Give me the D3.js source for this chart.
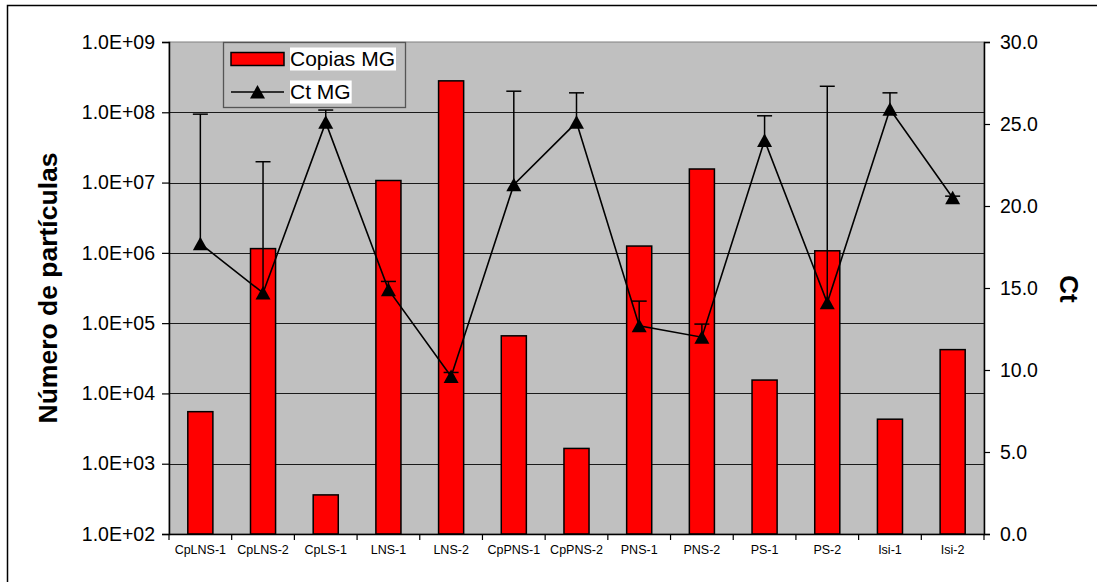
<!DOCTYPE html>
<html>
<head>
<meta charset="utf-8">
<script src="https://cdn.jsdelivr.net/npm/d3@7"></script>
<style>
  html, body { margin: 0; padding: 0; background: #fff; }
  svg { display: block; font-family: Arial, "Liberation Sans", sans-serif; }
</style>
</head>
<body>
<svg id="chart" width="1097" height="582"></svg>
<script>
// Samples on the category axis
const categories = ["CpLNS-1", "CpLNS-2", "CpLS-1", "LNS-1", "LNS-2", "CpPNS-1", "CpPNS-2",
                    "PNS-1", "PNS-2", "PS-1", "PS-2", "Isi-1", "Isi-2"];
// Copias MG (number of particles, log axis)
const copiasMG = [5.5e3, 1.15e6, 3.6e2, 1.07e7, 2.8e8, 6.6e4, 1.65e3,
                  1.25e6, 1.56e7, 1.55e4, 1.07e6, 4.3e3, 4.2e4];
// Ct MG (secondary axis) and its positive error
const ctMG = [17.7, 14.7, 25.1, 14.9, 9.6, 21.3, 25.1, 12.7, 12.0, 24.0, 14.1, 25.9, 20.5];
const ctErr = [7.9, 8.0, 0.75, 0.5, 0.25, 5.7, 1.8, 1.5, 0.8, 1.5, 13.2, 1.0, 0.1];
// Axis ticks
const leftTicks = [1e2, 1e3, 1e4, 1e5, 1e6, 1e7, 1e8, 1e9];
const leftTickLabels = ["1.0E+02", "1.0E+03", "1.0E+04", "1.0E+05", "1.0E+06", "1.0E+07", "1.0E+08", "1.0E+09"];
const rightTicks = [0, 5, 10, 15, 20, 25, 30];
const rightTickLabels = ["0.0", "5.0", "10.0", "15.0", "20.0", "25.0", "30.0"];
const legendLabels = ["Copias MG", "Ct MG"];

const svg = d3.select("#chart");
const plot = { left: 169, right: 984, top: 42, bottom: 534 };

// Outer chart frame
svg.append("rect")
  .attr("x", 7.5).attr("y", 5.5).attr("width", 1200).attr("height", 700)
  .attr("fill", "#fff").attr("stroke", "#000").attr("stroke-width", 1.5);

const x = d3.scaleBand().domain(categories).range([plot.left, plot.right]);
const yL = d3.scaleLog().domain([1e2, 1e9]).range([plot.bottom, plot.top]);
const yR = d3.scaleLinear().domain([0, 30]).range([plot.bottom, plot.top]);

// Plot area
svg.append("rect")
  .attr("x", plot.left).attr("y", plot.top)
  .attr("width", plot.right - plot.left).attr("height", plot.bottom - plot.top)
  .attr("fill", "#c0c0c0").attr("stroke", "#808080").attr("stroke-width", 1);

// Gridlines from the left axis
svg.append("g").selectAll("line")
  .data(leftTicks.slice(1, -1))
  .join("line")
  .attr("x1", plot.left).attr("x2", plot.right)
  .attr("y1", d => Math.round(yL(d)) + 0.5).attr("y2", d => Math.round(yL(d)) + 0.5)
  .attr("stroke", "#1a1a1a").attr("stroke-width", 1.1);

// Bars
const barW = x.bandwidth() * 0.4;
svg.append("g").selectAll("rect")
  .data(categories.map((c, i) => ({ c, v: copiasMG[i] })))
  .join("rect")
  .attr("x", d => x(d.c) + x.bandwidth() / 2 - barW / 2)
  .attr("y", d => yL(d.v))
  .attr("width", barW)
  .attr("height", d => plot.bottom - yL(d.v))
  .attr("fill", "#ff0000").attr("stroke", "#000").attr("stroke-width", 1.5);

// Axes
const leftAxis = d3.axisLeft(yL).tickValues(leftTicks)
  .tickFormat((d, i) => leftTickLabels[i]).tickSize(7).tickPadding(7);
const gL = svg.append("g").attr("transform", `translate(${plot.left},0)`).call(leftAxis);

const rightAxis = d3.axisRight(yR).tickValues(rightTicks)
  .tickFormat((d, i) => rightTickLabels[i]).tickSize(6).tickPadding(10);
const gR = svg.append("g").attr("transform", `translate(${plot.right},0)`).call(rightAxis);

const bottomAxis = d3.axisBottom(x).tickSize(0).tickPadding(11);
const gB = svg.append("g").attr("transform", `translate(0,${plot.bottom})`).call(bottomAxis);

// Category boundary ticks
svg.append("g").selectAll("line")
  .data(categories.map((c) => x(c)).concat([plot.right]))
  .join("line")
  .attr("x1", d => d).attr("x2", d => d)
  .attr("y1", plot.bottom).attr("y2", plot.bottom + 6)
  .attr("stroke", "#000").attr("stroke-width", 1.2);

[gL, gR, gB].forEach(g => {
  g.select(".domain").attr("stroke", "#000").attr("stroke-width", 1.5);
  g.selectAll(".tick line").attr("stroke", "#000").attr("stroke-width", 1.2);
  g.selectAll("text").attr("fill", "#000").attr("font-family", "Arial, 'Liberation Sans', sans-serif");
});
gL.selectAll("text").attr("font-size", 19.5);
gR.selectAll("text").attr("font-size", 19.5);
gB.selectAll("text").attr("font-size", 12.5);

// Axis titles
svg.append("text")
  .attr("transform", "translate(57,288) rotate(-90)")
  .attr("text-anchor", "middle")
  .attr("font-size", 26.5).attr("font-weight", "bold")
  .text("Número de partículas");

svg.append("text")
  .attr("transform", "translate(1060,289) rotate(90)")
  .attr("text-anchor", "middle")
  .attr("font-size", 26).attr("font-weight", "bold")
  .text("Ct");

// Ct series
const cx = c => x(c) + x.bandwidth() / 2;
const pts = categories.map((c, i) => ({ c, v: ctMG[i], e: ctErr[i] }));

svg.append("path")
  .datum(pts)
  .attr("d", d3.line().x(d => cx(d.c)).y(d => yR(d.v)))
  .attr("fill", "none").attr("stroke", "#000").attr("stroke-width", 1.6);

const err = svg.append("g").attr("stroke", "#000").attr("stroke-width", 1.5);
err.selectAll("line.stem")
  .data(pts).join("line").attr("class", "stem")
  .attr("x1", d => cx(d.c)).attr("x2", d => cx(d.c))
  .attr("y1", d => yR(d.v)).attr("y2", d => yR(d.v + d.e));
err.selectAll("line.cap")
  .data(pts).join("line").attr("class", "cap")
  .attr("x1", d => cx(d.c) - 7.5).attr("x2", d => cx(d.c) + 7.5)
  .attr("y1", d => yR(d.v + d.e)).attr("y2", d => yR(d.v + d.e));

const tri = "M0,-7L7.5,6.5L-7.5,6.5Z";
svg.append("g").selectAll("path")
  .data(pts).join("path")
  .attr("transform", d => `translate(${cx(d.c)},${yR(d.v)})`)
  .attr("d", tri).attr("fill", "#000");

// Legend
const lg = svg.append("g");
lg.append("rect")
  .attr("x", 223.5).attr("y", 42.5).attr("width", 182).attr("height", 65)
  .attr("fill", "#c0c0c0").attr("stroke", "#555").attr("stroke-width", 1.3);
lg.append("rect")
  .attr("x", 231).attr("y", 52.5).attr("width", 53).attr("height", 13)
  .attr("fill", "#ff0000").attr("stroke", "#000").attr("stroke-width", 1.5);
lg.append("line")
  .attr("x1", 231).attr("x2", 284).attr("y1", 92).attr("y2", 92)
  .attr("stroke", "#000").attr("stroke-width", 1.6);
lg.append("path")
  .attr("transform", "translate(257.5,92)")
  .attr("d", tri).attr("fill", "#000");
const legendY = [59, 92];
legendLabels.forEach((t, i) => {
  const txt = lg.append("text")
    .attr("x", 290).attr("y", legendY[i])
    .attr("dy", "0.35em")
    .attr("font-size", 21)
    .text(t);
  const bb = txt.node().getBBox();
  lg.insert("rect", () => txt.node())
    .attr("x", bb.x).attr("y", legendY[i] - 11.5)
    .attr("width", bb.width + 1).attr("height", 23)
    .attr("fill", "#fff");
});
</script>
</body>
</html>
